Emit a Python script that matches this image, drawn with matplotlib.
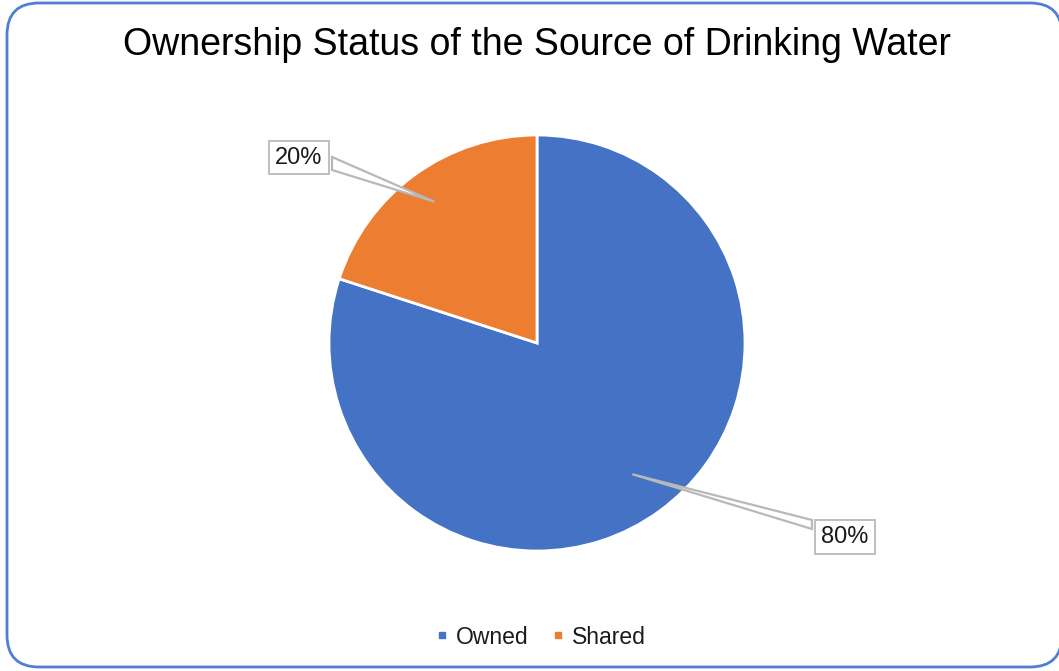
import numpy as np
import matplotlib.pyplot as plt
from matplotlib.patches import FancyBboxPatch, Polygon
from matplotlib.lines import Line2D

plt.rcParams['font.family'] = ['Liberation Sans', 'DejaVu Sans']

title = "Ownership Status of the Source of Drinking Water"
categories = ["Owned", "Shared"]
shares = [80, 20]
colors = ["#4472C4", "#ED7D31"]

W, H = 1059, 671
fig = plt.figure(figsize=(W / 100, H / 100), dpi=100)
ax = fig.add_axes([0, 0, 1, 1])

# rounded chart-area border
border = FancyBboxPatch((7, 4), W - 4, H - 7, boxstyle="round,pad=0,rounding_size=32",
                        transform=ax.transData, facecolor='white',
                        edgecolor='#4f7fd2', linewidth=2, clip_on=False, zorder=0)
ax.add_patch(border)

cx, cy, r = 537, H - 343, 208
wedges, _ = ax.pie(shares, colors=colors, startangle=90, counterclock=False,
                   radius=r, center=(cx, cy), frame=True,
                   wedgeprops=dict(edgecolor='white', linewidth=2))
ax.set_xlim(0, W)
ax.set_ylim(0, H)
ax.set_aspect('equal')
ax.axis('off')

# data labels with callout leaders
label_pos = [(845, H - 537), (299, H - 157.5)]
leader_ends = [[(812, H - 520), (812, H - 529)], [(332, H - 157), (332, H - 170)]]
apex_frac = [0.78, 0.84]
for w, val, pos, ends, f in zip(wedges, shares, label_pos, leader_ends, apex_frac):
    mid = np.deg2rad((w.theta1 + w.theta2) / 2)
    apex = (cx + f * r * np.cos(mid), cy + f * r * np.sin(mid))
    ax.add_patch(Polygon([ends[0], apex, ends[1]], closed=True, facecolor='white',
                         edgecolor='#b8b8b8', linewidth=1.6, zorder=3))
    ax.text(pos[0], pos[1], f"{val}%", ha='center', va='center', fontsize=17,
            color='#1a1a1a', zorder=4,
            bbox=dict(boxstyle='square,pad=0.25', facecolor='white', edgecolor='#bfbfbf', linewidth=1.4))

ax.text(537, H - 45, title, ha='center', va='center', fontsize=27, color='#000000')

handles = [Line2D([], [], marker='s', linestyle='none', markersize=5, color=c) for c in colors]
ax.legend(handles, categories, loc='center', bbox_to_anchor=(541 / W, 1 - 637 / H),
          bbox_transform=fig.transFigure, ncol=2, frameon=False, fontsize=16.5,
          handlelength=0.5, handletextpad=0.35, columnspacing=1.05, labelcolor='#1a1a1a')

fig.savefig('out.png', dpi=100, facecolor='white')
